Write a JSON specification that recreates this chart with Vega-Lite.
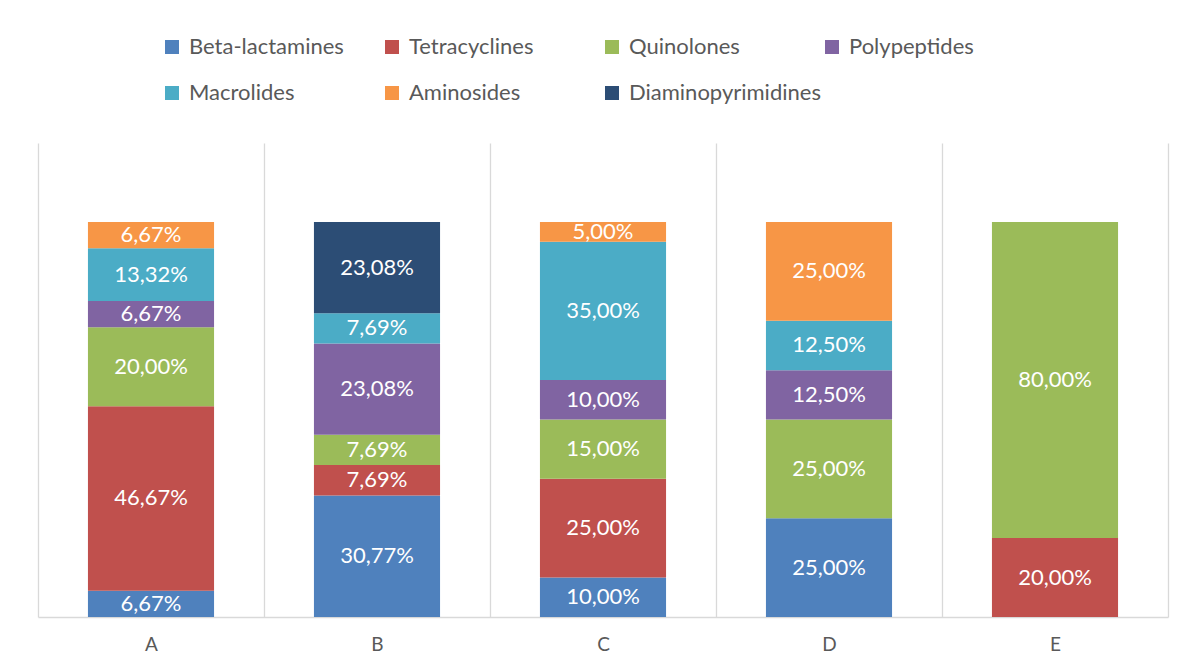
{
  "$schema": "https://vega.github.io/schema/vega-lite/v6.json",
  "width": 1130,
  "height": 474,
  "autosize": {"type": "none"},
  "padding": {"left": 38, "top": 143, "right": 21, "bottom": 49},
  "background": "white",
  "config": {
    "view": {"stroke": null},
    "font": "Lato",
    "locale": {"number": {"decimal": ",", "thousands": " ", "grouping": [3], "currency": ["", " €"]}}
  },
  "data": {
    "values": [
      {"cat": "A", "series": "Beta-lactamines", "k": 1, "value": 0.0667},
      {"cat": "A", "series": "Tetracyclines", "k": 2, "value": 0.4667},
      {"cat": "A", "series": "Quinolones", "k": 3, "value": 0.2},
      {"cat": "A", "series": "Polypeptides", "k": 4, "value": 0.0667},
      {"cat": "A", "series": "Macrolides", "k": 5, "value": 0.1332},
      {"cat": "A", "series": "Aminosides", "k": 6, "value": 0.0667},
      {"cat": "B", "series": "Beta-lactamines", "k": 1, "value": 0.3077},
      {"cat": "B", "series": "Tetracyclines", "k": 2, "value": 0.0769},
      {"cat": "B", "series": "Quinolones", "k": 3, "value": 0.0769},
      {"cat": "B", "series": "Polypeptides", "k": 4, "value": 0.2308},
      {"cat": "B", "series": "Macrolides", "k": 5, "value": 0.0769},
      {"cat": "B", "series": "Diaminopyrimidines", "k": 7, "value": 0.2308},
      {"cat": "C", "series": "Beta-lactamines", "k": 1, "value": 0.10},
      {"cat": "C", "series": "Tetracyclines", "k": 2, "value": 0.25},
      {"cat": "C", "series": "Quinolones", "k": 3, "value": 0.15},
      {"cat": "C", "series": "Polypeptides", "k": 4, "value": 0.10},
      {"cat": "C", "series": "Macrolides", "k": 5, "value": 0.35},
      {"cat": "C", "series": "Aminosides", "k": 6, "value": 0.05},
      {"cat": "D", "series": "Beta-lactamines", "k": 1, "value": 0.25},
      {"cat": "D", "series": "Quinolones", "k": 3, "value": 0.25},
      {"cat": "D", "series": "Polypeptides", "k": 4, "value": 0.125},
      {"cat": "D", "series": "Macrolides", "k": 5, "value": 0.125},
      {"cat": "D", "series": "Aminosides", "k": 6, "value": 0.25},
      {"cat": "E", "series": "Tetracyclines", "k": 2, "value": 0.20},
      {"cat": "E", "series": "Quinolones", "k": 3, "value": 0.80}
    ]
  },
  "transform": [
    {"stack": "value", "groupby": ["cat"], "sort": [{"field": "k", "order": "ascending"}], "as": ["v0", "v1"]},
    {"calculate": "(datum.v0 + datum.v1) / 2", "as": "vmid"}
  ],
  "encoding": {
    "x": {
      "field": "cat",
      "type": "nominal",
      "title": null,
      "scale": {"paddingInner": 0, "paddingOuter": 0},
      "axis": {
        "tickBand": "extent",
        "grid": true,
        "gridColor": "#D9D9D9",
        "gridWidth": 1.3,
        "domainColor": "#D9D9D9",
        "domainWidth": 1.3,
        "ticks": false,
        "labelAngle": 0,
        "labelFontSize": 19,
        "labelColor": "#595959",
        "labelPadding": 18,
        "labelFont": "Lato"
      }
    }
  },
  "layer": [
    {
      "mark": {"type": "bar", "width": {"band": 0.558}},
      "encoding": {
        "y": {"field": "v0", "type": "quantitative", "scale": {"domain": [0, 1.2], "nice": false}, "axis": null},
        "y2": {"field": "v1"},
        "color": {
          "field": "series",
          "type": "nominal",
          "scale": {
            "domain": ["Beta-lactamines", "Tetracyclines", "Quinolones", "Polypeptides", "Macrolides", "Aminosides", "Diaminopyrimidines"],
            "range": ["#4F81BD", "#C0504D", "#9BBB59", "#8064A2", "#4BACC6", "#F79646", "#2C4D75"]
          },
          "legend": {
            "title": null,
            "orient": "none",
            "legendX": 123,
            "legendY": -107,
            "direction": "horizontal",
            "columns": 4,
            "gridAlign": "all",
            "columnPadding": 0,
            "rowPadding": 24,
            "symbolType": "square",
            "symbolSize": 196,
            "symbolStrokeWidth": 0,
            "symbolOffset": 0,
            "labelOffset": 6,
            "labelFontSize": 22,
            "labelColor": "#595959",
            "labelFont": "Lato",
            "labelLimit": 400
          }
        }
      }
    },
    {
      "mark": {"type": "text", "color": "white", "fontSize": 22, "font": "Lato", "baseline": "middle", "align": "center"},
      "encoding": {
        "y": {"field": "vmid", "type": "quantitative", "scale": {"domain": [0, 1.2], "nice": false}},
        "text": {"field": "value", "type": "quantitative", "format": ".2%"}
      }
    }
  ]
}
